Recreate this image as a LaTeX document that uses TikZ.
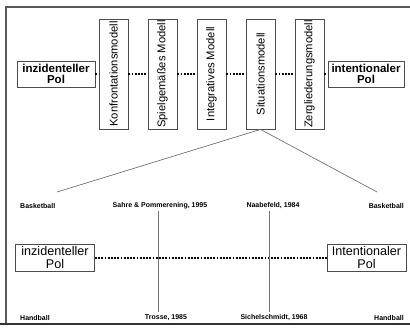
\documentclass[tikz,border=0pt]{standalone}
\usepackage{fontspec}
\setmainfont{Liberation Sans}
\begin{document}
\begin{tikzpicture}[x=1pt,y=-1pt,
  polbox/.style={draw=black!70,line width=0.8pt,fill=white,inner sep=0pt,minimum width=78pt,minimum height=26pt,align=center,font=\fontsize{11.5}{11.5}\selectfont\bfseries},
  polbig/.style={draw=black!70,line width=0.8pt,fill=white,inner sep=0pt,minimum width=79pt,minimum height=27pt,align=center,font=\fontsize{12.6}{12.6}\selectfont},
  modbox/.style={draw=black!70,line width=0.8pt,fill=white,inner sep=0pt,minimum width=110pt,minimum height=29pt,rotate=90,font=\fontsize{11.2}{11.2}\selectfont},
  dotline/.style={black,line width=2pt,dash pattern=on 1.8pt off 1.4pt},
  thin/.style={black!55,line width=0.7pt},
  lbl/.style={inner sep=0pt,font=\fontsize{7}{7}\selectfont\bfseries},
  frame/.style={black!65,line width=1.4pt}
]
\useasboundingbox (0,0) rectangle (410,327);
% frame
\draw[frame] (6,323) -- (6,7) -- (410,7);
\draw[black!80,line width=1.8pt] (0,324) -- (410,324);

% top row
\node[polbox] (L1) at (56,74) {inzidenteller\\Pol};
\node[modbox] (K) at (113.5,74) {Konfrontationsmodell};
\node[modbox] (S) at (162.5,74) {Spielgemäßes Modell};
\node[modbox] (I) at (211.5,74) {Integratives Modell};
\node[modbox] (Si) at (260.5,74) {Situationsmodell};
\node[modbox] (Z) at (309.5,74) {Zergliederungsmodell};
\node[polbox,minimum width=76pt] (R1) at (366,74) {intentionaler\\Pol};

\draw[dotline] (L1.east) -- (K.north);
\draw[dotline] (K.south) -- (S.north);
\draw[dotline] (S.south) -- (I.north);
\draw[dotline] (I.south) -- (Si.north);
\draw[dotline] (Si.south) -- (Z.north);
\draw[dotline] (Z.south) -- (R1.west);

% fan lines
\coordinate (fl) at (57,192);
\coordinate (fr) at (377,192);
\draw[thin] (Si.west) -- (fl);
\draw[thin] (Si.west) -- (fr);

% labels upper row
\node[lbl,anchor=west] (bk1) at (20,206) {Basketball};
\node[lbl] (sahre) at (160,206) {Sahre \& Pommerening, 1995};
\node[lbl] (naa) at (273,206) {Naabefeld, 1984};
\node[lbl,anchor=east] (bk2) at (404,206) {Basketball};

% lower boxes
\node[polbig] (L2) at (55,257.5) {inzidenteller\\Pol};
\node[polbig] (R2) at (366.5,257.5) {Intentionaler\\Pol};
\draw[dotline] (L2.east) -- (R2.west);

% labels lower row
\node[lbl,anchor=west] (hb1) at (20,318) {Handball};
\node[lbl] (trosse) at (166,318) {Trosse, 1985};
\node[lbl] (sichel) at (274,318) {Sichelschmidt, 1968};
\node[lbl,anchor=east] (hb2) at (404,318) {Handball};

% vertical lines
\coordinate (v1a) at (158,211);
\coordinate (v1b) at (158,312);
\coordinate (v2a) at (269,211);
\coordinate (v2b) at (269,312);
\draw[thin] (v1a) -- (v1b);
\draw[thin] (v2a) -- (v2b);
\end{tikzpicture}
\end{document}
